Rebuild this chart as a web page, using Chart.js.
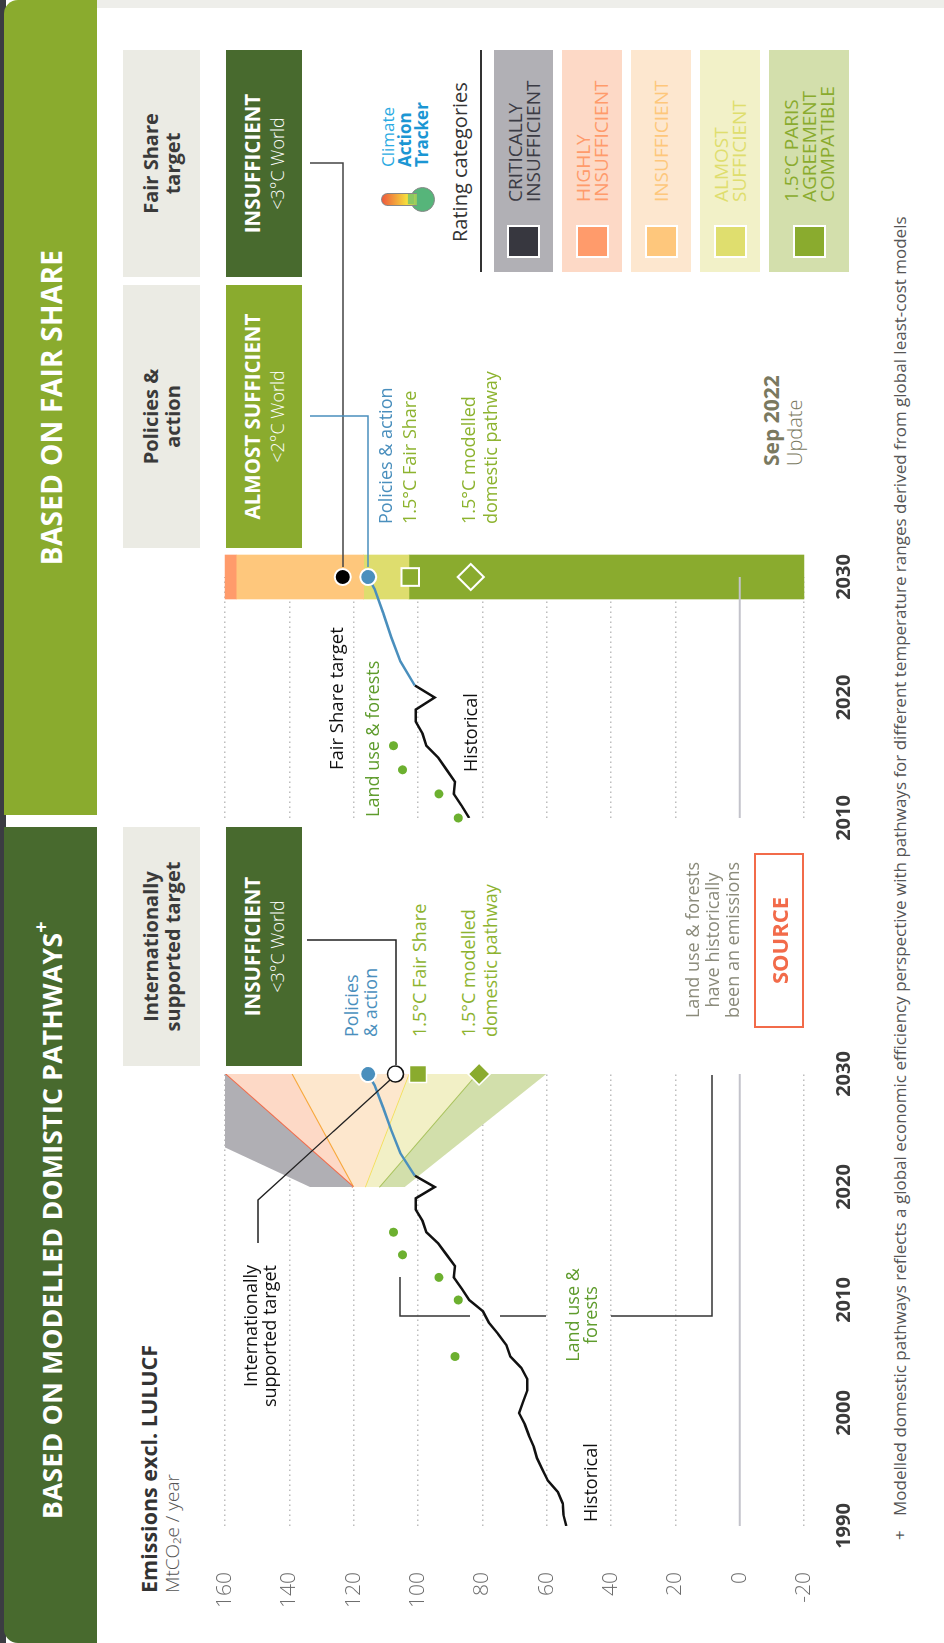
<!DOCTYPE html>
<html>
<head>
<meta charset="utf-8">
<script src="https://cdn.jsdelivr.net/npm/chart.js@4.4.0/dist/chart.umd.min.js"></script>
<style>
html, body { margin:0; padding:0; background:#fff; }
body { width:944px; height:1643px; overflow:hidden; position:relative; font-family:'Open Sans', sans-serif; }
/* the whole graphic is laid out landscape and turned a quarter left */
#stage { position:absolute; left:0; top:0; width:1643px; height:944px; transform-origin:0 0; transform:translate(0, 1643px) rotate(-90deg); }
.a { position:absolute; white-space:nowrap; line-height:1; }
.box { position:absolute; display:flex; flex-direction:column; align-items:center; justify-content:center; text-align:center; }
.hdr { color:#fff; font-weight:700; font-size:28px; letter-spacing:0.3px; }
.gbox { background:#ebebe4; color:#3a3a3a; font-weight:700; font-size:20px; line-height:22px; }
.rbox { color:#fff; }
.rbox b { font-size:20.5px; line-height:26px; }
.rbox span { font-size:18px; font-weight:300; line-height:24px; }
.blue { color:#4a8fbd; }
.lgreen { color:#8db32f; }
.dgreen { color:#5f9c2d; }
canvas { position:absolute; }
.strip { position:absolute; left:1371px; width:222px; }
.sq { position:absolute; left:14px; width:33px; height:33px; border:2px solid #fff; box-sizing:border-box; }
.st { position:absolute; left:70px; font-size:19px; line-height:18px; white-space:nowrap; }
</style>
</head>
<body>
<div id="stage">
  <!-- frame -->
  <div class="a" style="left:0;top:0;width:1643px;height:6px;background:#3b3c42;"></div>
  <div class="a" style="left:1635px;top:97px;width:8px;height:847px;background:#eeeeea;"></div>
  <div class="box hdr" style="left:0;top:4px;width:816px;height:93px;background:#486a2e;border-top-left-radius:14px;font-size:26.5px;box-sizing:border-box;padding-left:30px;">
    <div>BASED ON MODELLED DOMISTIC PATHWAYS<sup style="font-size:20px;position:relative;top:-4px;">+</sup></div>
  </div>
  <div class="box hdr" style="left:828px;top:4px;width:815px;height:93px;background:#8aab2e;border-top-right-radius:14px;">
    <div>BASED ON FAIR SHARE</div>
  </div>

  <!-- column headers -->
  <div class="box gbox" style="left:577px;top:123px;width:239px;height:77px;">Internationally<br>supported target</div>
  <div class="box rbox" style="left:577px;top:226px;width:239px;height:76px;background:#486a2e;"><b>INSUFFICIENT</b><span>&lt;3°C World</span></div>
  <div class="box gbox" style="left:1095px;top:123px;width:263px;height:77px;">Policies &amp;<br>action</div>
  <div class="box rbox" style="left:1095px;top:226px;width:263px;height:76px;background:#8aab2e;"><b>ALMOST SUFFICIENT</b><span>&lt;2°C World</span></div>
  <div class="box gbox" style="left:1366px;top:123px;width:227px;height:77px;">Fair Share<br>target</div>
  <div class="box rbox" style="left:1366px;top:226px;width:227px;height:76px;background:#486a2e;"><b>INSUFFICIENT</b><span>&lt;3°C World</span></div>

  <!-- axis title -->
  <div class="a" style="left:50px;top:138px;font-size:21.5px;font-weight:700;color:#333;">Emissions excl. LULUCF</div>
  <div class="a" style="left:50px;top:163px;font-size:19px;font-weight:300;color:#555;">MtCO₂e / year</div>

  <canvas id="leftChart" width="600" height="680" style="left:0;top:195px;"></canvas>
  <canvas id="rightChart" width="320" height="680" style="left:800px;top:195px;"></canvas>

  <!-- left panel notes -->
  <div class="a" style="right:1265px;top:241px;font-size:18px;line-height:18.5px;color:#111;text-align:right;">Internationally<br>supported target</div>
  <div class="a" style="left:121px;top:581px;font-size:18px;color:#111;">Historical</div>
  <div class="a dgreen" style="left:248px;width:160px;top:563px;font-size:18px;line-height:18px;text-align:center;">Land use &amp;<br>forests</div>
  <div class="a blue" style="left:606px;top:342px;font-size:18px;line-height:19px;">Policies<br>&amp; action</div>
  <div class="a lgreen" style="left:606px;top:410px;font-size:18px;">1.5°C Fair Share</div>
  <div class="a lgreen" style="left:606px;top:457px;font-size:18px;line-height:22px;">1.5°C modelled<br>domestic pathway</div>
  <div class="a" style="left:603px;width:200px;top:682px;font-size:18px;line-height:20px;color:#8b8b7b;text-align:center;">Land use &amp; forests<br>have historically<br>been an emissions</div>
  <div class="box" style="left:615px;top:754px;width:175px;height:50px;border:2px solid #f26b4a;box-sizing:border-box;color:#f26b4a;font-weight:700;font-size:22px;">SOURCE</div>

  <!-- right panel notes -->
  <div class="a" style="left:873px;top:327px;font-size:18.5px;color:#111;">Fair Share target</div>
  <div class="a dgreen" style="left:826px;top:363px;font-size:18px;">Land use &amp; forests</div>
  <div class="a" style="left:871px;top:461px;font-size:18px;color:#111;">Historical</div>
  <div class="a blue" style="left:1119px;top:376px;font-size:18px;">Policies &amp; action</div>
  <div class="a lgreen" style="left:1119px;top:400px;font-size:18px;">1.5°C Fair Share</div>
  <div class="a lgreen" style="left:1119px;top:457px;font-size:18px;line-height:22px;">1.5°C modelled<br>domestic pathway</div>
  <div class="a" style="left:1177px;top:761px;font-size:21px;font-weight:700;color:#7a795f;">Sep 2022</div>
  <div class="a" style="left:1177px;top:785px;font-size:20px;font-weight:300;color:#7a795f;">Update</div>

  <!-- rating legend -->
  <div class="a" style="left:1431px;top:410px;width:25px;height:25px;border-radius:50%;background:#56b57a;border:1.5px solid #888;box-sizing:border-box;"></div>
  <div class="a" style="left:1437px;top:381px;width:13px;height:36px;border-radius:7px 7px 0 0;background:linear-gradient(to bottom,#ee5a3c,#f6dc3c 70%,#8cc862);border:1.5px solid #888;border-bottom:none;box-sizing:border-box;"></div>
  <div class="a" style="left:1438.5px;top:408px;width:10px;height:6px;background:#8cc862;"></div>
  <div class="a" style="left:1476px;top:379px;font-size:17px;color:#2aaae2;">Climate</div>
  <div class="a" style="left:1476px;top:396px;font-size:17px;font-weight:700;color:#1b96d3;">Action</div>
  <div class="a" style="left:1476px;top:413px;font-size:17px;font-weight:700;color:#1b96d3;">Tracker</div>
  <div class="a" style="left:1401px;top:450px;font-size:20px;color:#333;">Rating categories</div>
  <div class="a" style="left:1371px;top:480px;width:222px;height:2px;background:#333;"></div>
  <div id="legend"></div>

  <div class="a" style="left:103px;top:891px;font-size:17px;color:#555;">+</div>
  <div class="a" style="left:127px;top:891px;font-size:17px;color:#555;">Modelled domestic pathways reflects a global economic efficiency perspective with pathways for different temperature ranges derived from global least-cost models</div>

  <!-- leader lines -->
  <svg class="a" style="left:0;top:0;" width="1643" height="944">
    <g fill="none" stroke-width="1.5">
      <polyline points="703,307 703,396 578,396" stroke="#222"/>
      <polyline points="400,258 443,258 563,390" stroke="#222" stroke-width="1.3"/>
      <polyline points="1480,310 1480,343 1076,343" stroke="#444"/>
      <polyline points="1227,310 1227,368 1076,368" stroke="#4a8fbd"/>
      <polyline points="366,400 327,400 327,470" stroke="#333"/>
      <polyline points="327,500 327,546" stroke="#333"/>
      <polyline points="327,611 327,712 568,712" stroke="#333"/>
    </g>
  </svg>
</div>

<script>
// emissions excl. LULUCF, MtCO2e / year
var histYears = [1990, 1991, 1992, 1993, 1994, 1995, 1996, 1997, 1998, 1999, 2000, 2001, 2002, 2003, 2004, 2005,
                 2006, 2007, 2008, 2009, 2010, 2011, 2012, 2013, 2014, 2015, 2016, 2017, 2018, 2019, 2020, 2021];
var historical = [53.9, 54.8, 55.0, 56.5, 59.6, 61.3, 63.0, 64.0, 65.5, 66.8, 68.6, 67.3, 66.0, 66.0, 67.9, 71.3,
                  72.5, 75.1, 78.0, 79.8, 84.1, 86.4, 88.9, 88.5, 91.1, 93.7, 97.4, 98.6, 100.7, 100.7, 94.8, 101.0];
var policyYears = [2021, 2023, 2025, 2027, 2029, 2030];
var policies = [101.0, 105.5, 108.3, 110.8, 113.5, 115.5];
var landYears = [2005, 2010, 2012, 2014, 2016];
var landUse = [88.5, 87.5, 93.5, 104.8, 107.6];

// modelled domestic pathway ranges, 2020 -> 2030
var fanYears = [2020, 2030];
var fanCritTop = [133.6, 209];
var fanHighly = [120.2, 160];
var fanInsuff = [120.2, 139.3];
var fanAlmost = [116.5, 102.9];
var fanParis = [112.1, 81.8];
var fanBottom = [104.1, 60.1];

// 2030 targets
var intlTarget2030 = 107;
var fairShareModelled2030 = 100;
var modelled2030 = 81;
var fairShareTarget2030 = 123.4;
var fairShare2030 = 102.4;
var modelledFS2030 = 83.6;

// fair share bands at 2030
var bandLow = [156.5, 116.9, 102.8, -20];
var bandHigh = [160, 156.5, 116.9, 102.8];
var bandColors = ['#ff9b6b', '#fec77c', '#dedd6e', '#8aab2e'];

var valueTicks = [-20, 0, 20, 40, 60, 80, 100, 120, 140, 160];

// rating legend
var ratingLabels = [['CRITICALLY', 'INSUFFICIENT'], ['HIGHLY', 'INSUFFICIENT'], ['INSUFFICIENT'],
                    ['ALMOST', 'SUFFICIENT'], ['1.5°C PARIS', 'AGREEMENT', 'COMPATIBLE']];
var ratingStrip = ['#b1b0b5', '#fdd9c6', '#fde7cf', '#f2f1c8', '#d3dfac'];
var ratingSwatch = ['#37373f', '#ff9b6b', '#fec77c', '#dfde6e', '#8aab2e'];
var ratingText = ['#3b3b44', '#ff9b6b', '#fec77c', '#dfde6e', '#8aab2e'];
var stripTop = [494, 562, 631, 700, 769];
var stripH = [59, 60, 60, 60, 80];

var leg = document.getElementById('legend');
ratingLabels.forEach(function(lines, i) {
  var s = document.createElement('div');
  s.className = 'strip';
  s.style.top = stripTop[i] + 'px';
  s.style.height = stripH[i] + 'px';
  s.style.background = ratingStrip[i];
  var q = document.createElement('div');
  q.className = 'sq';
  q.style.top = (stripH[i] / 2 - 16.5) + 'px';
  q.style.background = ratingSwatch[i];
  s.appendChild(q);
  var t = document.createElement('div');
  t.className = 'st';
  t.style.color = ratingText[i];
  t.style.top = (stripH[i] / 2 - lines.length * 9) + 'px';
  t.innerHTML = lines.join('<br>');
  s.appendChild(t);
  leg.appendChild(s);
});

Chart.defaults.font.family = "'Open Sans', sans-serif";

function pts(xs, ys) {
  return xs.map(function(x, i) { return {x: x, y: ys[i]}; });
}

function marker(x, y, style, r, bg, border, bw) {
  return {data: [{x: x, y: y}], showLine: false, pointStyle: style, pointRadius: r,
          pointBackgroundColor: bg, pointBorderColor: border, pointBorderWidth: bw, clip: false, order: 0};
}

function fanLine(ys, fillColor, lineColor) {
  return {data: pts(fanYears, ys), borderColor: lineColor || 'rgba(0,0,0,0)', borderWidth: lineColor ? 2 : 0,
          backgroundColor: fillColor || 'rgba(0,0,0,0)', fill: fillColor ? '+1' : false, pointRadius: 0, order: 6};
}

function scalesFor(min, max, yLabels, yWidth) {
  return {
    x: {type: 'linear', min: min, max: max, offset: false,
        grid: {display: false}, border: {display: false},
        ticks: {stepSize: 10, padding: 20, color: '#3a3a3a', maxRotation: 0,
                font: {size: 20, weight: 'bold'}, callback: function(v) { return String(v); }},
        afterFit: function(s) { s.height = 71; s.paddingLeft = 0; s.paddingRight = 0; }},
    y: {min: -20, max: 160, z: 1,
        afterBuildTicks: function(s) { s.ticks = valueTicks.map(function(v) { return {value: v}; }); },
        grid: {color: function(c) { return c.tick && c.tick.value === 0 ? 'rgba(0,0,0,0)' : '#bdbdbd'; },
               lineWidth: 1.5, drawTicks: false},
        border: {display: false, dash: [1.5, 3.5]},
        ticks: {display: yLabels, padding: 46, color: '#6e6e6e', font: {size: 21, weight: '300'}},
        afterFit: function(s) { s.width = yWidth; s.paddingTop = 0; s.paddingBottom = 0; }}
  };
}

// nudge the layout padding until the plot area sits where the picture has it
function placeArea(chart, want) {
  for (var k = 0; k < 3; k++) {
    var a = chart.chartArea, p = chart.config.options.layout.padding;
    p.left += want.left - a.left;
    p.top += want.top - a.top;
    p.right += a.right - want.right;
    p.bottom += a.bottom - want.bottom;
    chart.update('none');
  }
}

var leftChart = new Chart(document.getElementById('leftChart'), {
  type: 'line',
  data: {datasets: [
    marker(2030, policies[policies.length - 1], 'circle', 8, '#4a8fbd', '#fff', 2),
    marker(2030, intlTarget2030, 'circle', 8, '#fff', '#111', 1.5),
    marker(2030, fairShareModelled2030, 'rect', 12, '#8aab2e', '#fff', 1.5),
    marker(2030, modelled2030, 'rectRot', 11, '#8aab2e', '#fff', 1.5),
    {data: pts(policyYears, policies), borderColor: '#4a8fbd', borderWidth: 2.5, pointRadius: 0, order: 1},
    {data: pts(histYears, historical), borderColor: '#111', borderWidth: 2.5, pointRadius: 0, order: 1},
    {data: pts(landYears, landUse), showLine: false, pointRadius: 4.5, pointBackgroundColor: '#6cb02f',
     pointBorderWidth: 0, clip: false, order: 2},
    fanLine(fanCritTop, '#b0afb4'),
    fanLine(fanHighly, '#fdd9c6', '#f26b4a'),
    fanLine(fanInsuff, '#fde7cd', '#f7a83a'),
    fanLine(fanAlmost, '#f2f0c6', '#f3df58'),
    fanLine(fanParis, '#d2dfab', '#a9c35e'),
    fanLine(fanBottom),
    {data: pts([1990, 2030], [0, 0]), borderColor: '#c3c3cb', borderWidth: 2, pointRadius: 0, order: 1}
  ]},
  options: {
    responsive: false, animation: false,
    layout: {padding: {top: 30, right: 31, left: 0, bottom: 0}},
    plugins: {legend: {display: false}, tooltip: {enabled: false}},
    scales: scalesFor(1990, 2030, true, 117)
  }
});
placeArea(leftChart, {left: 117, top: 30, right: 569, bottom: 609});

var rightSets = [
  marker(2030, fairShareTarget2030, 'circle', 8, '#000', '#fff', 2),
  marker(2030, policies[policies.length - 1], 'circle', 8, '#4a8fbd', '#fff', 2),
  marker(2030, fairShare2030, 'rect', 12.5, '#8aab2e', '#fff', 2),
  marker(2030, modelledFS2030, 'rectRot', 13, 'rgba(0,0,0,0)', '#fff', 2),
  {data: pts(policyYears, policies), borderColor: '#4a8fbd', borderWidth: 2.5, pointRadius: 0, order: 1},
  {data: pts(histYears, historical).filter(function(p) { return p.x >= 2010; }),
   borderColor: '#111', borderWidth: 2.5, pointRadius: 0, order: 1},
  {data: pts(landYears, landUse).filter(function(p) { return p.x >= 2010; }), showLine: false,
   pointRadius: 4.5, pointBackgroundColor: '#6cb02f', pointBorderWidth: 0, clip: false, order: 2},
  {data: pts([2010, 2030], [0, 0]), borderColor: '#c3c3cb', borderWidth: 2, pointRadius: 0, order: 1}
];
bandLow.forEach(function(lo, i) {
  rightSets.push({type: 'bar', data: [{x: 2030, y: [lo, bandHigh[i]]}], backgroundColor: bandColors[i],
                  borderWidth: 0, barThickness: 44, grouped: false, clip: false, order: 5});
});

var rightChart = new Chart(document.getElementById('rightChart'), {
  type: 'line',
  data: {datasets: rightSets},
  options: {
    responsive: false, animation: false,
    layout: {padding: {top: 30, right: 54, left: 0, bottom: 0}},
    plugins: {legend: {display: false}, tooltip: {enabled: false}},
    scales: scalesFor(2010, 2030, false, 25)
  }
});
placeArea(rightChart, {left: 25, top: 30, right: 266, bottom: 609});
</script>
</body>
</html>
